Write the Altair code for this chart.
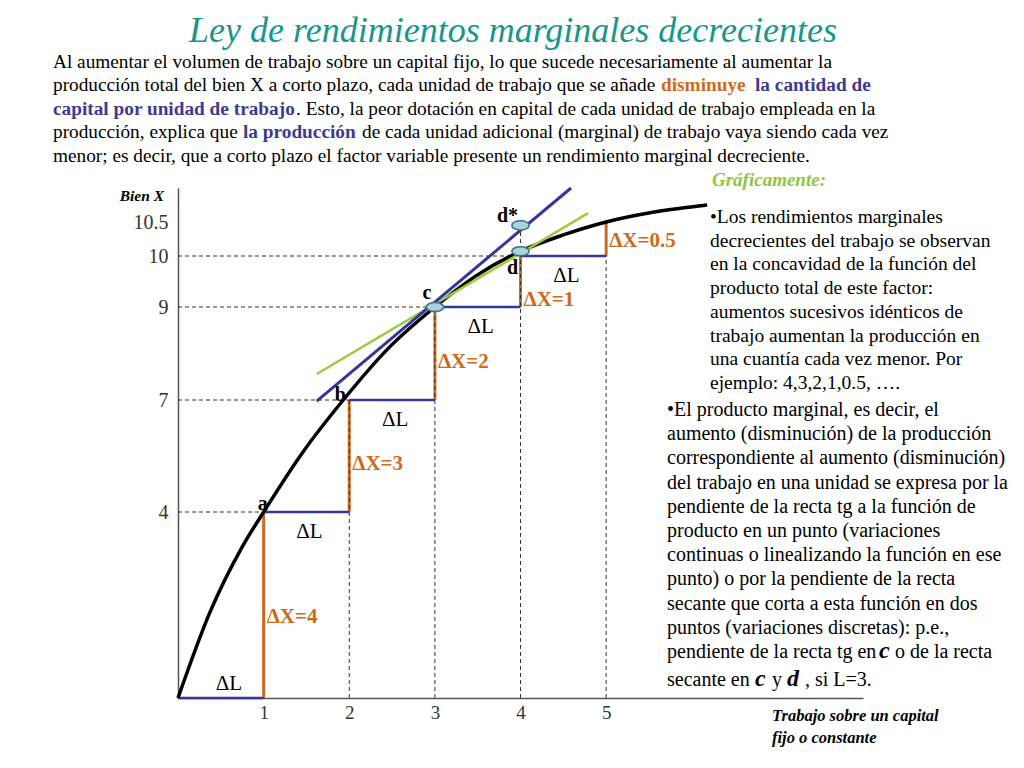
import altair as alt
import pandas as pd

# ---------------- data ----------------
labor = [0, 1, 2, 3, 4, 5]                 # L (trabajo)
output = [0, 4, 7, 9, 10, 10.5]            # X (bien X)
marginal = [4, 3, 2, 1, 0.5]               # ΔX por unidad de trabajo

curve_L = [0, 0.37, 0.75, 1.0, 1.46, 1.93, 2.45, 3.0, 3.48, 4.0, 4.5, 5.0, 5.58, 6.18]
curve_X = [0, 1.83, 3.25, 4.0, 5.61, 7.0, 8.10, 9.0, 9.61, 10.07, 10.31, 10.5, 10.65, 10.75]

tangent_L = [1.62, 4.59]
tangent_X = [6.97, 11.0]
secant_L = [1.62, 4.79]
secant_X = [7.56, 10.63]

point_names = ["c", "d", "d*"]
point_L = [3, 4, 4]
point_X = [9, 10.07, 10.45]

step_names = ["a", "b", "c", "d"]
y_ticks = [4, 7, 9, 10, 10.5]
x_ticks = [1, 2, 3, 4, 5]

# ---------------- styles ----------------
FONT = "Liberation Serif"
ORANGE = "#cf6a1c"
BLUE = "#35369a"
GREEN = "#9ccb3b"
TEAL = "#17968a"
TBLUE = "#3b3b95"
OX, OY = 178, 188  # page position of the plot origin (left/top)

xs = alt.Scale(domain=[0, 8], nice=False, zero=False)
ys = alt.Scale(domain=[0, 4, 7, 9, 10, 10.5, 11],
               range=[510, 324, 212, 119, 68, 34, 0], nice=False, zero=False)

xaxis = alt.Axis(values=x_ticks, tickSize=0, labelPadding=5, labelFontSize=19, labelFont=FONT,
                 labelColor="#333333", domainColor="#555555", domainWidth=1.5, grid=False, title=None,
                 labelExpr="datum.value + ''")
yaxis = alt.Axis(values=y_ticks, tickSize=0, labelPadding=10, labelFontSize=20, labelFont=FONT,
                 labelColor="#333333", domainColor="#555555", domainWidth=1.5, grid=False, title=None,
                 labelExpr="datum.value + ''")


def X_(f):
    return alt.X(f, scale=xs, axis=xaxis)


def Y_(f):
    return alt.Y(f, scale=ys, axis=yaxis)


# ---------------- tables ----------------
rows = []
for i in range(5):
    rows.append(dict(x=labor[i], y=output[i], x2=labor[i + 1], y2=output[i], kind="dL"))
    rows.append(dict(x=labor[i + 1], y=output[i], x2=labor[i + 1], y2=output[i + 1], kind="dX"))
for i in range(1, 5):
    rows.append(dict(x=0, y=output[i], x2=labor[i], y2=output[i], kind="guide"))
rows.append(dict(x=labor[2], y=0, x2=labor[2], y2=output[2], kind="guide"))
rows.append(dict(x=labor[3], y=0, x2=labor[3], y2=output[3], kind="guide"))
rows.append(dict(x=labor[4], y=0, x2=labor[4], y2=point_X[2], kind="guide"))
rows.append(dict(x=labor[5], y=0, x2=labor[5], y2=output[4], kind="guide"))
rows.append(dict(x=tangent_L[0], y=tangent_X[0], x2=tangent_L[1], y2=tangent_X[1], kind="tangent"))
rows.append(dict(x=secant_L[0], y=secant_X[0], x2=secant_L[1], y2=secant_X[1], kind="secant"))
segs = pd.DataFrame(rows)

curve = pd.DataFrame({"L": curve_L, "X": curve_X})
pts = pd.DataFrame({"name": point_names, "L": point_L, "X": point_X})
dl_df = pd.DataFrame({
    "L": [(labor[i] + labor[i + 1]) / 2 for i in range(5)],
    "X": output[:5],
    "t": ["ΔL"] * 5,
    "i": list(range(5)),
})
one = pd.DataFrame({"a": [0]})


def seg_layer(kind, **mk):
    return alt.Chart(segs).transform_filter(alt.datum.kind == kind).mark_rule(**mk).encode(
        x=X_("x:Q"), y=Y_("y:Q"), x2="x2:Q", y2="y2:Q")


def txt(text, x, y, size, color="black", weight="normal", style="normal",
        align="left", baseline="alphabetic", lh=None):
    kw = dict(font=FONT, fontSize=size, color=color, fontWeight=weight,
              fontStyle=style, align=align, baseline=baseline)
    if lh:
        kw["lineHeight"] = lh
    return alt.Chart(one).mark_text(**kw).encode(
        x=alt.value(x - OX), y=alt.value(y - OY), text=alt.value(text))


layers = []
layers.append(seg_layer("dX", color=ORANGE, strokeWidth=3))
layers.append(seg_layer("guide", color="#333333", strokeWidth=1, strokeDash=[4, 3]))
layers.append(seg_layer("dL", color=BLUE, strokeWidth=2.5))
layers.append(alt.Chart(curve).mark_line(color="black", strokeWidth=3.5, interpolate="monotone").encode(
    x=X_("L:Q"), y=Y_("X:Q")))
layers.append(seg_layer("secant", color=GREEN, strokeWidth=2.5))
layers.append(seg_layer("tangent", color=BLUE, strokeWidth=3))

ell = "M-1,0A1,0.53,0,1,1,1,0A1,0.53,0,1,1,-1,0Z"
layers.append(alt.Chart(pts).mark_point(shape=ell, size=300, filled=True, fill="#a9d4df",
                                        stroke="#3d6e8a", strokeWidth=1.5, opacity=1).encode(
    x=X_("L:Q"), y=Y_("X:Q")))

# ΔX labels (one per step, each nudged below its segment midpoint)
dx_dy = [12, 8, 8, 18, 2]
for i in range(5):
    m = marginal[i]
    d = pd.DataFrame({"L": [labor[i + 1]], "X": [(output[i] + output[i + 1]) / 2],
                      "t": ["ΔX=" + (str(m) if m != int(m) else str(int(m)))]})
    layers.append(alt.Chart(d).mark_text(font=FONT, fontSize=21, fontWeight="bold", color=ORANGE,
                                         align="left", baseline="middle", dx=3, dy=dx_dy[i]).encode(
        x=X_("L:Q"), y=Y_("X:Q"), text="t:N"))

# ΔL labels
layers.append(alt.Chart(dl_df).transform_filter(alt.datum.i == 0).mark_text(
    font=FONT, fontSize=21, align="center", baseline="middle", dx=8, dy=-14).encode(
    x=X_("L:Q"), y=Y_("X:Q"), text="t:N"))
layers.append(alt.Chart(dl_df).transform_filter(alt.datum.i > 0).mark_text(
    font=FONT, fontSize=21, align="center", baseline="middle", dx=3, dy=20).encode(
    x=X_("L:Q"), y=Y_("X:Q"), text="t:N"))

# point labels
lab_offsets = {"a": (-1, -8), "b": (-9, -5), "c": (-8, -14), "d": (-8, 12)}
for k, nm in enumerate(step_names):
    dxo, dyo = lab_offsets[nm]
    d = pd.DataFrame({"L": [labor[k + 1]], "X": [output[k + 1]], "t": [nm]})
    layers.append(alt.Chart(d).mark_text(font=FONT, fontSize=20, fontWeight="bold", align="center",
                                         baseline="middle", dx=dxo, dy=dyo).encode(
        x=X_("L:Q"), y=Y_("X:Q"), text="t:N"))
dstar = pd.DataFrame({"L": [point_L[2]], "X": [point_X[2]], "t": [point_names[2]]})
layers.append(alt.Chart(dstar).mark_text(font=FONT, fontSize=20, fontWeight="bold", align="center",
                                         baseline="middle", dx=-13, dy=-9).encode(
    x=X_("L:Q"), y=Y_("X:Q"), text="t:N"))

# ---------------- texts ----------------
layers.append(txt("Ley de rendimientos marginales decrecientes", 513, 42, 36, TEAL, style="italic",
                  align="center"))

P = 19.3
b0, lh0 = 67.5, 23.5
layers.append(txt("Al aumentar el volumen de trabajo sobre un capital fijo, lo que sucede necesariamente al aumentar la",
                  53, b0, P))
layers.append(txt("producción total del bien X a corto plazo, cada unidad de trabajo que se añade",
                  53, b0 + lh0, P))
layers.append(txt("disminuye", 661, b0 + lh0, P, ORANGE, weight="bold"))
layers.append(txt("la cantidad de", 755, b0 + lh0, P, TBLUE, weight="bold"))
layers.append(txt("capital por unidad de trabajo", 53, b0 + 2 * lh0, P, TBLUE, weight="bold"))
layers.append(txt(". Esto, la peor dotación en capital de cada unidad de trabajo empleada en la",
                  296, b0 + 2 * lh0, P))
layers.append(txt("producción, explica que", 53, b0 + 3 * lh0, P))
layers.append(txt("la producción", 243, b0 + 3 * lh0, P, TBLUE, weight="bold"))
layers.append(txt("de cada unidad adicional (marginal) de trabajo vaya siendo cada vez",
                  362, b0 + 3 * lh0, P))
layers.append(txt("menor; es decir, que a corto plazo el factor variable presente un rendimiento marginal decreciente.",
                  53, b0 + 4 * lh0, P))

layers.append(txt("Gráficamente:", 712, 186, 19, "#8dc63f", weight="bold", style="italic"))

block1 = ["•Los rendimientos marginales", "decrecientes del trabajo se observan",
          "en la concavidad de la función del", "producto total de este factor:",
          "aumentos sucesivos idénticos de", "trabajo aumentan la producción en",
          "una cuantía cada vez menor. Por", "ejemplo: 4,3,2,1,0.5, …."]
layers.append(txt(block1, 710, 223, 19.5, lh=23.7))

R2 = 20
block2 = ["•El producto marginal, es decir, el", "aumento (disminución) de la producción",
          "correspondiente al aumento (disminución)", "del trabajo en una unidad se expresa por la",
          "pendiente de la recta tg a la función de", "producto en un punto (variaciones",
          "continuas o linealizando la función en ese", "punto) o por la pendiente de la recta",
          "secante que corta a esta función en dos", "puntos (variaciones discretas): p.e.,"]
b2, lh2 = 416, 24.2
layers.append(txt(block2, 667, b2, R2, lh=lh2))
y11 = b2 + 10 * lh2
layers.append(txt("pendiente de la recta tg en", 667, y11, R2))
layers.append(txt("c", 879, y11, 24, weight="bold", style="italic"))
layers.append(txt("o de la recta", 895, y11, R2))
y12 = 686
layers.append(txt("secante en", 667, y12, R2))
layers.append(txt("c", 755, y12, 24, weight="bold", style="italic"))
layers.append(txt("y", 772, y12, R2))
layers.append(txt("d", 787, y12, 24, weight="bold", style="italic"))
layers.append(txt(", si L=3.", 805, y12, R2))

layers.append(txt("Bien X", 164, 201, 15.5, weight="bold", style="italic", align="right"))
layers.append(txt(["Trabajo sobre un capital", "fijo o constante"], 772, 721, 16.5,
                  weight="bold", style="italic", lh=22))

chart = alt.layer(*layers).properties(
    width=685, height=510,
    autosize=alt.AutoSizeParams(type="none"),
    padding={"left": 170, "top": 180, "right": 153, "bottom": 62},
).configure_view(strokeWidth=0)

chart.save("out.html", embed_options={"renderer": "svg", "actions": False})
